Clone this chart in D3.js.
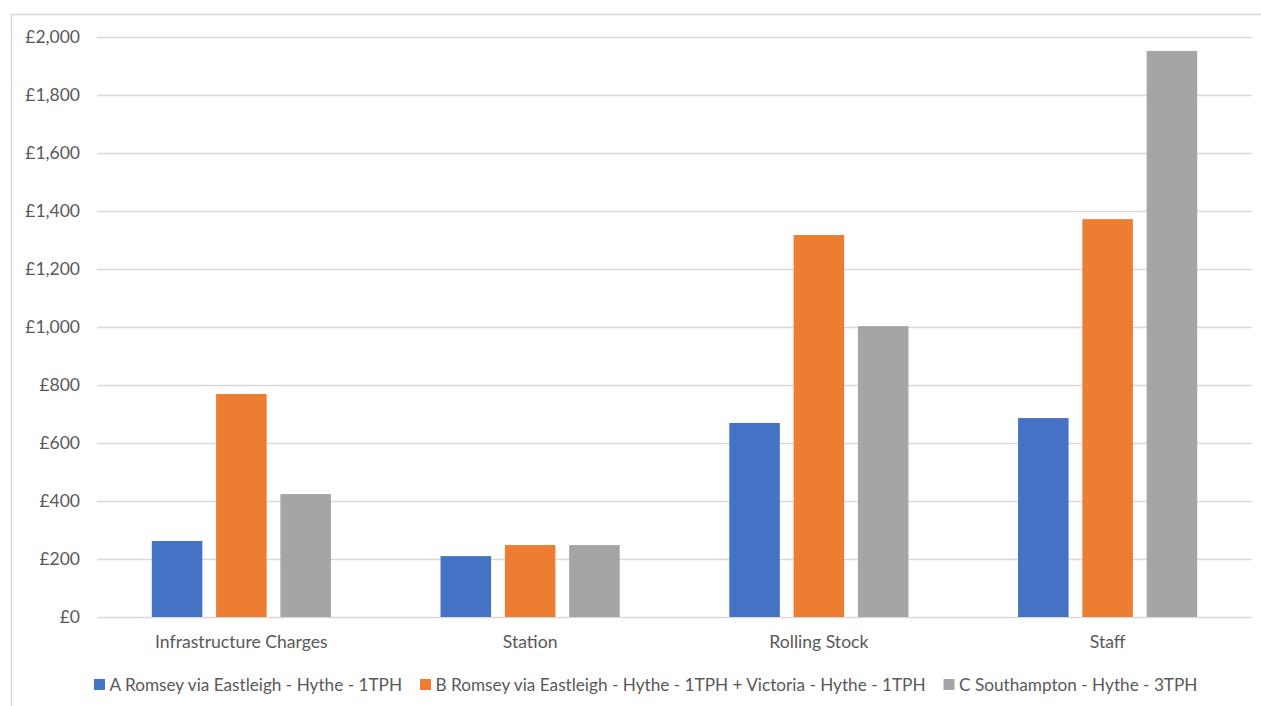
<!DOCTYPE html>
<html>
<head>
<meta charset="utf-8">
<script src="https://cdn.jsdelivr.net/npm/d3@7"></script>
<style>
  html, body { margin: 0; padding: 0; background: #fff; }
  svg { display: block; }
  text { font-family: Lato, "Liberation Sans", sans-serif; fill: #595959; }
</style>
</head>
<body>
<svg id="chart" width="1261" height="706"></svg>
<script>
const categories = ["Infrastructure Charges", "Station", "Rolling Stock", "Staff"];
const seriesNames = [
  "A Romsey via Eastleigh - Hythe - 1TPH",
  "B Romsey via Eastleigh - Hythe - 1TPH + Victoria - Hythe - 1TPH",
  "C Southampton - Hythe - 3TPH"
];
const seriesA = [262, 210, 669, 686];
const seriesB = [769, 248, 1317, 1372];
const seriesC = [424, 248, 1003, 1952];
const yTicks = [0, 200, 400, 600, 800, 1000, 1200, 1400, 1600, 1800, 2000];
const colors = ["#4472C4", "#ED7D31", "#A5A5A5"];

const seriesValues = [seriesA, seriesB, seriesC];
const svg = d3.select("#chart");

// chart border
svg.append("rect").attr("x", 11.5).attr("y", 14.5).attr("width", 1270).attr("height", 720)
  .attr("fill", "none").attr("stroke", "#d9d9d9").attr("stroke-width", 1.5);

const plot = { left: 97, right: 1252, top: 37, bottom: 617 };

const y = d3.scaleLinear().domain([0, 2000]).range([plot.bottom, plot.top]);
const x0 = d3.scaleBand().domain(categories).range([plot.left, plot.right]).padding(0);
const x1 = d3.scaleBand().domain(d3.range(seriesNames.length))
  .range([0, x0.bandwidth()]).paddingInner(0.214).paddingOuter(0.852);

// gridlines
svg.append("g").selectAll("line").data(yTicks).join("line")
  .attr("x1", plot.left).attr("x2", plot.right)
  .attr("y1", d => Math.round(y(d)) + 0.5).attr("y2", d => Math.round(y(d)) + 0.5)
  .attr("stroke", "#d9d9d9").attr("stroke-width", 1.3);

// y axis labels
const fmt = d => "£" + d3.format(",")(d);
svg.append("g").selectAll("text").data(yTicks).join("text")
  .attr("x", 80).attr("y", d => y(d)).attr("dy", "0.35em")
  .attr("text-anchor", "end").style("font-size", "17.5px")
  .text(fmt);

// bars
const groups = svg.append("g").selectAll("g").data(categories).join("g")
  .attr("transform", c => `translate(${x0(c)},0)`);
groups.selectAll("rect")
  .data((c, ci) => seriesValues.map((vals, si) => ({ si, v: vals[ci] })))
  .join("rect")
  .attr("x", d => x1(d.si))
  .attr("width", x1.bandwidth())
  .attr("y", d => y(d.v))
  .attr("height", d => y(0) - y(d.v))
  .attr("fill", d => colors[d.si]);

// x axis labels
svg.append("g").selectAll("text").data(categories).join("text")
  .attr("x", c => x0(c) + x0.bandwidth() / 2).attr("y", 642).attr("dy", "0.35em")
  .attr("text-anchor", "middle").style("font-size", "17.6px")
  .text(c => c);

// legend
const legend = svg.append("g");
const items = legend.selectAll("g").data(seriesNames).join("g");
items.append("rect").attr("width", 11).attr("height", 11).attr("y", -6)
  .attr("fill", (d, i) => colors[i]);
items.append("text").attr("x", 15.5).attr("dy", "0.35em").style("font-size", "17.2px").text(d => d);
let cx = 0;
const gap = 18;
items.each(function () {
  const g = d3.select(this);
  g.attr("transform", `translate(${cx},0)`);
  cx += 15.5 + g.select("text").node().getComputedTextLength() + gap;
});
legend.attr("transform", `translate(94,685)`);
</script>
</body>
</html>
